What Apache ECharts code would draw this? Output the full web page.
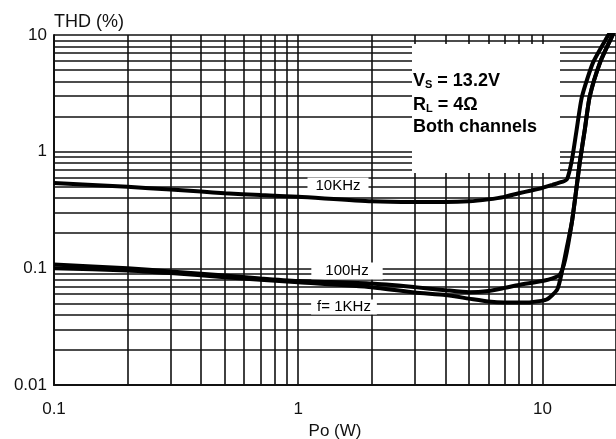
<!DOCTYPE html>
<html>
<head>
<meta charset="utf-8">
<script src="https://cdn.jsdelivr.net/npm/echarts@6/dist/echarts.min.js"></script>
<style>
html,body{margin:0;padding:0;background:#fff;}
#chart{width:616px;height:439px;}
</style>
</head>
<body>
<div id="chart"></div>
<script>
// ---- data ----
const po10k  = [0.1,0.2,0.3,0.4,0.5,0.7,1,2,3,4,5,6,7,8,9,10,11,12,12.6,13.2,13.8,14.5,16.1,18.4,19.2];
const thd10k = [0.54,0.50,0.473,0.455,0.44,0.425,0.41,0.375,0.37,0.37,0.375,0.39,0.41,0.44,0.465,0.49,0.52,0.55,0.58,0.85,1.54,2.95,5.8,9.6,11];

const po100  = [0.1,0.2,0.3,0.5,0.7,1,2,3,4,5,6,7,8,10,11,11.8,12.4,13.2,13.8,14.2,14.9,15.6,17.2,19.2,19.8];
const thd100 = [0.108,0.1,0.094,0.087,0.082,0.078,0.074,0.069,0.065,0.0625,0.064,0.068,0.072,0.078,0.082,0.089,0.12,0.25,0.5,0.8,1.54,2.95,5.8,9.6,11];

const po1k   = [0.1,0.2,0.3,0.5,0.7,1,2,3,4,5,6,7,8,9,10.4,11.5,12,12.6,13.2,13.8,14.2,14.9,15.6,17.2,19.2,19.8];
const thd1k  = [0.1,0.096,0.091,0.084,0.08,0.076,0.069,0.062,0.059,0.055,0.052,0.051,0.051,0.0513,0.054,0.066,0.0925,0.154,0.25,0.5,0.8,1.54,2.95,5.8,9.6,11];

const xMinorGrid = [0.2,0.3,0.4,0.5,0.6,0.7,0.8,0.9,2,3,4,5,6,7,8,9];
const yMinorGrid = [0.02,0.03,0.04,0.05,0.06,0.07,0.08,0.09,0.2,0.3,0.4,0.5,0.6,0.7,0.8,0.9,2,3,4,5,6,7,8,9];
const xRange = [0.1, 20];
const yRange = [0.01, 10];
const xTickLabels = ['0.1', '1', '10'];
const yTickLabels = ['0.01', '0.1', '1', '10'];
const curveLabels = ['10KHz', '100Hz', 'f= 1KHz'];
const noteLines = ['Vs = 13.2V', 'RL = 4Ω', 'Both channels'];

const zip = (xs, ys) => xs.map((x, i) => [x, ys[i]]);
const FONT = '"Liberation Sans", Arial, sans-serif';
const INK = '#111';
const fmt = list => v => {
  const s = list.find(t => Math.abs(parseFloat(t) - v) < 1e-9 * Math.max(1, v));
  return s === undefined ? '' : s;
};

const chart = echarts.init(document.getElementById('chart'), null, {renderer: 'canvas'});

const gridLineStyle = {color: INK, width: 1.6, type: 'solid'};

const option = {
  animation: false,
  backgroundColor: '#fff',
  grid: {left: 54, top: 35, right: 0, bottom: 54, containLabel: false, outerBoundsMode: 'none'},
  xAxis: {
    type: 'log', logBase: 10, min: xRange[0], max: xRange[1],
    name: 'Po (W)', nameLocation: 'middle', nameGap: 37,
    nameTextStyle: {fontFamily: FONT, fontSize: 17, color: INK},
    axisLine: {show: true, lineStyle: {color: INK, width: 2}},
    axisTick: {show: false},
    axisLabel: {fontFamily: FONT, fontSize: 17, color: INK, margin: 16, showMaxLabel: false,
      formatter: fmt(xTickLabels)},
    splitLine: {show: true, lineStyle: gridLineStyle},
    minorTick: {show: false}, minorSplitLine: {show: false}
  },
  yAxis: {
    type: 'log', logBase: 10, min: yRange[0], max: yRange[1],
    name: 'THD (%)', nameLocation: 'end', nameGap: 13,
    nameTextStyle: {fontFamily: FONT, fontSize: 18, color: INK, align: 'left', verticalAlign: 'middle'},
    axisLine: {show: true, lineStyle: {color: INK, width: 2}},
    axisTick: {show: false},
    axisLabel: {fontFamily: FONT, fontSize: 17, color: INK, margin: 7,
      formatter: fmt(yTickLabels)},
    splitLine: {show: true, lineStyle: gridLineStyle},
    minorTick: {show: false}, minorSplitLine: {show: false}
  },
  series: [
    {
      name: 'grid', type: 'line', data: [], z: 1, silent: true,
      markLine: {
        z: 1, silent: true, symbol: ['none', 'none'], animation: false,
        label: {show: false},
        lineStyle: gridLineStyle,
        emphasis: {disabled: true},
        data: xMinorGrid.map(v => ({xAxis: v})).concat(yMinorGrid.map(v => ({yAxis: v})))
      }
    },
    {name: '10KHz', type: 'line', data: zip(po10k, thd10k), z: 20, showSymbol: false, smooth: 0.2,
      lineStyle: {color: '#000', width: 4}},
    {name: '100Hz', type: 'line', data: zip(po100, thd100), z: 20, showSymbol: false, smooth: 0.2,
      lineStyle: {color: '#000', width: 4}},
    {name: '1KHz', type: 'line', data: zip(po1k, thd1k), z: 20, showSymbol: false, smooth: 0.2,
      lineStyle: {color: '#000', width: 4}}
  ],
  graphic: {
    z: 10,
    elements: [
      {type: 'rect', z: 10, shape: {x: 412, y: 44, width: 148, height: 129}, style: {fill: '#fff'}},
      {type: 'text', z: 11, x: 413, y: 80, style: {
        text: '{b|V}{s|S}{b| = 13.2V}', verticalAlign: 'middle',
        rich: {b: {fontFamily: FONT, fontWeight: 'bold', fontSize: 18, fill: '#000', lineHeight: 20, verticalAlign: 'bottom'},
               s: {fontFamily: FONT, fontWeight: 'bold', fontSize: 11, fill: '#000', lineHeight: 20, verticalAlign: 'bottom'}}}},
      {type: 'text', z: 11, x: 413, y: 104, style: {
        text: '{b|R}{s|L}{b| = 4Ω}', verticalAlign: 'middle',
        rich: {b: {fontFamily: FONT, fontWeight: 'bold', fontSize: 18, fill: '#000', lineHeight: 20, verticalAlign: 'bottom'},
               s: {fontFamily: FONT, fontWeight: 'bold', fontSize: 11, fill: '#000', lineHeight: 20, verticalAlign: 'bottom'}}}},
      {type: 'text', z: 11, x: 413, y: 127, style: {
        text: noteLines[2], font: 'bold 18px ' + FONT, fill: '#000', verticalAlign: 'middle'}},
      {type: 'text', z: 11, x: 338, y: 186, style: {
        text: curveLabels[0], font: '15px ' + FONT, fill: '#000', align: 'center', verticalAlign: 'middle',
        backgroundColor: '#fff', padding: [1, 8]}},
      {type: 'text', z: 11, x: 347, y: 271, style: {
        text: curveLabels[1], font: '15px ' + FONT, fill: '#000', align: 'center', verticalAlign: 'middle',
        backgroundColor: '#fff', padding: [1, 14]}},
      {type: 'text', z: 11, x: 344, y: 307, style: {
        text: curveLabels[2], font: '15px ' + FONT, fill: '#000', align: 'center', verticalAlign: 'middle',
        backgroundColor: '#fff', padding: [0, 6]}}
    ]
  }
};
chart.setOption(option);
</script>
</body>
</html>
